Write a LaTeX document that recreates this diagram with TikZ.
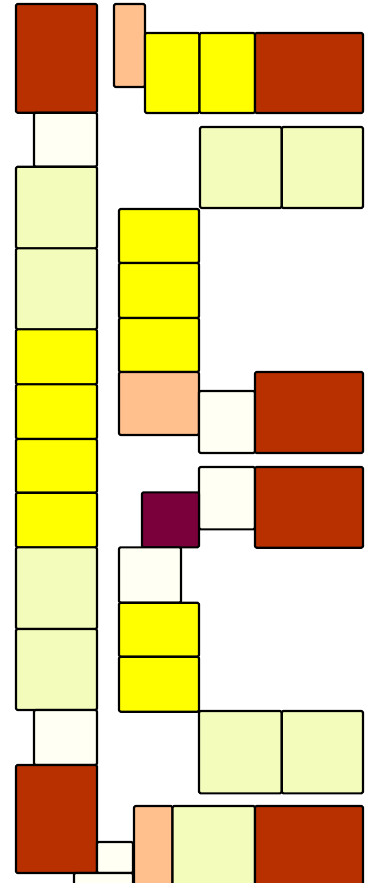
\documentclass[tikz,border=0pt]{standalone}
\definecolor{cRed}{RGB}{184,48,0}
\definecolor{cYel}{RGB}{255,255,0}
\definecolor{cLight}{RGB}{244,252,188}
\definecolor{cWhite}{RGB}{255,255,243}
\definecolor{cPeach}{RGB}{255,192,142}
\definecolor{cPurple}{RGB}{122,0,60}
\tikzset{cell/.style={draw=black, line width=2.1pt, rounded corners=1.4pt, line join=round}}
\newcommand{\cellbox}[5]{\filldraw[cell, fill=#1] (#2,#3) rectangle (#4,#5);}
\begin{document}
\begin{tikzpicture}[x=1pt,y=-1pt]
\useasboundingbox (0,0) rectangle (367,883);
\clip (0,0) rectangle (367,883);
% left column
\cellbox{cRed}{16}{4}{97}{112.7}
\cellbox{cWhite}{34}{112.7}{97}{166.7}
\cellbox{cLight}{16}{166.7}{97}{248.3}
\cellbox{cLight}{16}{248.3}{97}{329.3}
\cellbox{cYel}{16}{329.3}{97}{384.3}
\cellbox{cYel}{16}{384.3}{97}{439}
\cellbox{cYel}{16}{439}{97}{492.7}
\cellbox{cYel}{16}{492.7}{97}{547.3}
\cellbox{cLight}{16}{547.3}{97}{629}
\cellbox{cLight}{16}{629}{97}{710}
\cellbox{cWhite}{34}{710}{97}{765}
\cellbox{cRed}{16}{765}{97}{873}
\cellbox{cWhite}{97}{842}{133}{873}
\cellbox{cWhite}{74}{873}{133}{895}
% top right
\cellbox{cPeach}{114}{4}{145}{87}
\cellbox{cYel}{145}{33}{199.5}{113}
\cellbox{cYel}{199.5}{33}{255}{113}
\cellbox{cRed}{255}{33}{363}{113}
\cellbox{cLight}{200}{127}{281.7}{208}
\cellbox{cLight}{281.7}{127}{363}{208}
% middle column
\cellbox{cYel}{119}{209}{199}{263}
\cellbox{cYel}{119}{263}{199}{318}
\cellbox{cYel}{119}{318}{199}{372}
\cellbox{cPeach}{119}{372}{199}{435}
\cellbox{cWhite}{199}{391}{255}{453}
\cellbox{cRed}{255}{372}{363}{453}
\cellbox{cWhite}{199}{467}{255}{529.3}
\cellbox{cRed}{255}{467}{363}{547.7}
\cellbox{cPurple}{142}{492.3}{199}{547.3}
\cellbox{cWhite}{119}{547.3}{181}{602.7}
\cellbox{cYel}{119}{602.7}{199}{656.7}
\cellbox{cYel}{119}{656.7}{199}{711.7}
\cellbox{cLight}{199}{711}{281.7}{793.3}
\cellbox{cLight}{281.7}{711}{363}{793.3}
% bottom row
\cellbox{cPeach}{134}{806}{172.5}{895}
\cellbox{cLight}{172.5}{806}{255}{895}
\cellbox{cRed}{255}{806}{363}{895}
\end{tikzpicture}
\end{document}
